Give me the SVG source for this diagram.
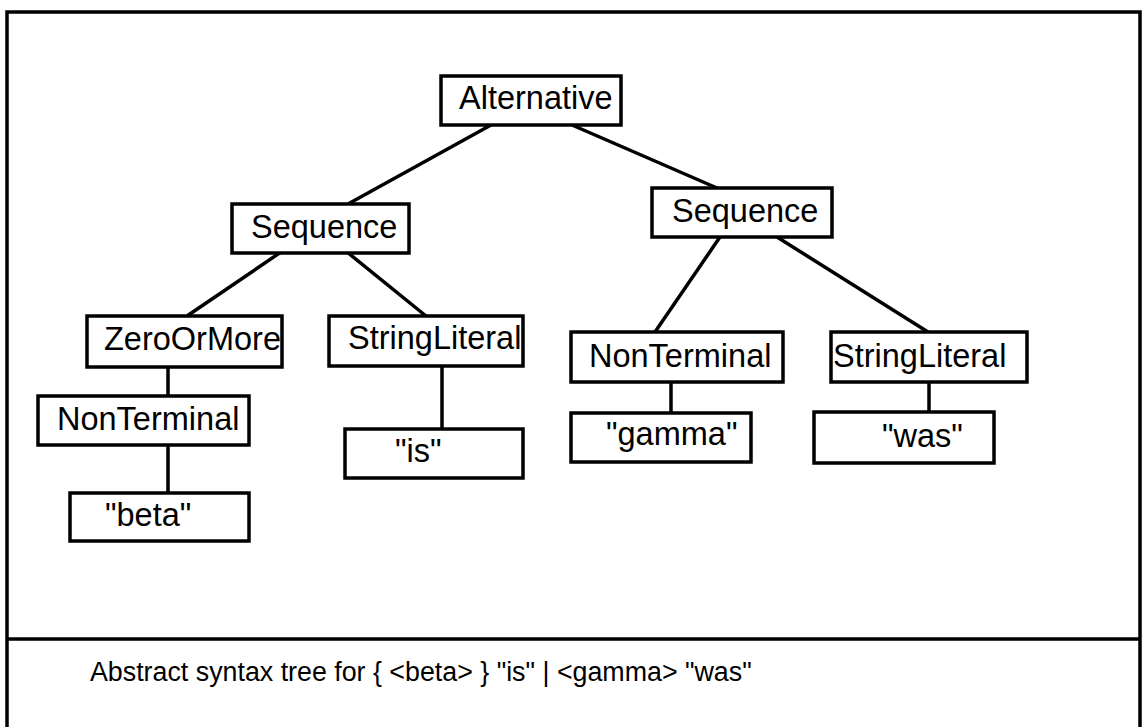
<svg xmlns="http://www.w3.org/2000/svg" width="1143" height="727" viewBox="0 0 1143 727">
  <style>
    .box { fill: #fff; stroke: #000; stroke-width: 3.5; }
    .lbl { font-family: "Liberation Sans", Arial, Helvetica, sans-serif; font-size: 32.5px; fill: #000; }
    .edge { stroke: #000; stroke-width: 3.5; fill: none; stroke-linecap: butt; }
    .frame { stroke: #000; stroke-width: 3.5; fill: none; }
    .caption { font-family: "Liberation Sans", Arial, Helvetica, sans-serif; font-size: 26.8px; fill: #000; }
  </style>
  <rect x="0" y="0" width="1143" height="727" fill="#fff"/>

  <!-- outer frame and caption divider -->
  <g id="frame">
    <path class="frame" d="M7,740 V12 H1140 V740"/>
    <line class="frame" x1="7" y1="639" x2="1140" y2="639"/>
  </g>

  <!-- tree edges -->
  <g id="connectors">
    <line class="edge" x1="491" y1="125" x2="348" y2="204"/>
    <line class="edge" x1="572" y1="125" x2="717" y2="188"/>
    <line class="edge" x1="281" y1="252" x2="187" y2="316"/>
    <line class="edge" x1="347" y1="252" x2="426" y2="316"/>
    <line class="edge" x1="720" y1="237" x2="655" y2="332"/>
    <line class="edge" x1="777" y1="237" x2="928" y2="332"/>
    <line class="edge" x1="168" y1="367" x2="168" y2="396"/>
    <line class="edge" x1="168" y1="445" x2="168" y2="493"/>
    <line class="edge" x1="442" y1="366" x2="442" y2="429"/>
    <line class="edge" x1="671" y1="382" x2="671" y2="413"/>
    <line class="edge" x1="929" y1="382" x2="929" y2="412"/>
  </g>

  <g id="alternative">
    <rect class="box" x="441" y="76" width="180" height="49"/>
    <text class="lbl" x="459" y="109">Alternative</text>
  </g>

  <g id="sequence-left">
    <rect class="box" x="232" y="204" width="177" height="49"/>
    <text class="lbl" x="251" y="238">Sequence</text>
  </g>

  <g id="sequence-right">
    <rect class="box" x="652" y="188" width="180" height="49"/>
    <text class="lbl" x="672" y="222">Sequence</text>
  </g>

  <g id="zero-or-more">
    <rect class="box" x="87" y="316" width="195" height="51"/>
    <text class="lbl" x="104" y="350">ZeroOrMore</text>
  </g>

  <g id="string-literal-left">
    <rect class="box" x="329" y="316" width="194" height="50"/>
    <text class="lbl" x="348" y="349">StringLiteral</text>
  </g>

  <g id="nonterminal-left">
    <rect class="box" x="38" y="396" width="211" height="49"/>
    <text class="lbl" x="57" y="430">NonTerminal</text>
  </g>

  <g id="literal-beta">
    <rect class="box" x="70" y="493" width="179" height="48"/>
    <text class="lbl" x="105" y="526">"beta"</text>
  </g>

  <g id="literal-is">
    <rect class="box" x="345" y="429" width="178" height="49"/>
    <text class="lbl" x="395" y="462">"is"</text>
  </g>

  <g id="nonterminal-right">
    <rect class="box" x="571" y="332" width="212" height="50"/>
    <text class="lbl" x="589" y="367">NonTerminal</text>
  </g>

  <g id="string-literal-right">
    <rect class="box" x="831" y="332" width="196" height="50"/>
    <text class="lbl" x="833" y="367">StringLiteral</text>
  </g>

  <g id="literal-gamma">
    <rect class="box" x="571" y="413" width="180" height="49"/>
    <text class="lbl" x="606" y="445">"gamma"</text>
  </g>

  <g id="literal-was">
    <rect class="box" x="814" y="412" width="180" height="51"/>
    <text class="lbl" x="882" y="447">"was"</text>
  </g>

  <g id="caption">
    <text class="caption" x="90" y="681">Abstract syntax tree for { &lt;beta&gt; } "is" | &lt;gamma&gt; "was"</text>
  </g>
</svg>
